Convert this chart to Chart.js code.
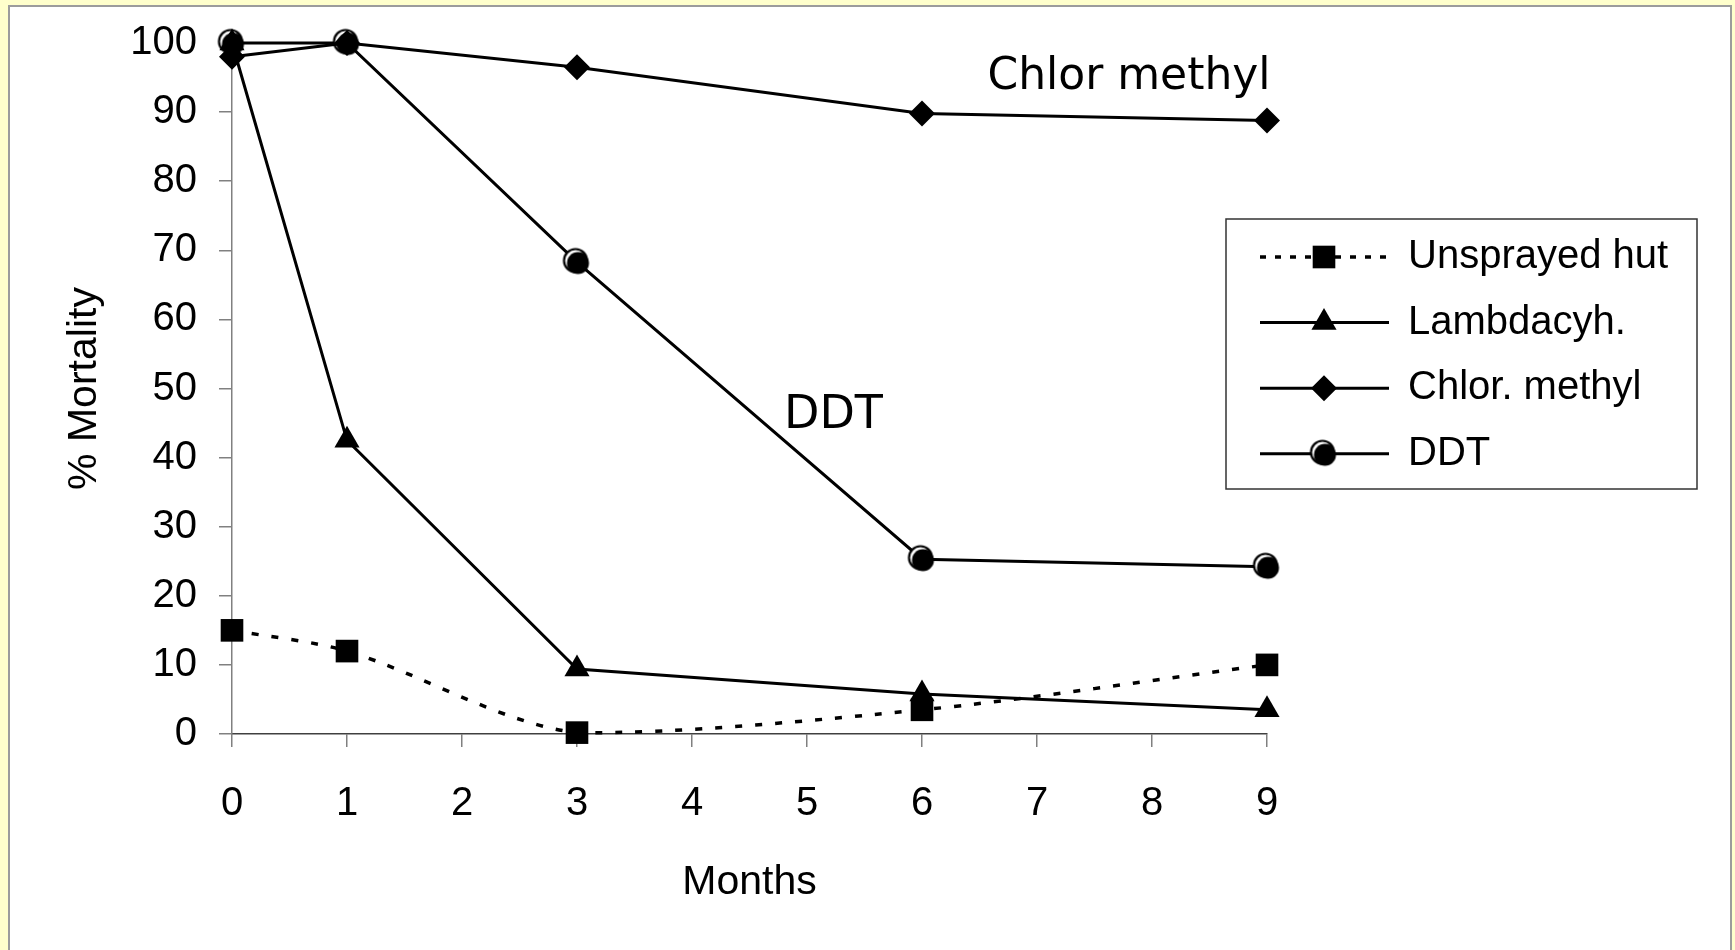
<!doctype html>
<html lang="en">
<head>
<meta charset="utf-8">
<title>% Mortality by month</title>
<style>
  html, body { margin: 0; padding: 0; background: #ffffcc; overflow: hidden; }
  .panel {
    position: absolute; left: 8px; top: 5px; width: 1724px; height: 1000px;
    box-sizing: border-box; background: #fff; border: 2px solid #9c9c9c;
  }
  #chart { position: absolute; left: 0; top: 0; }
</style>
<script src="https://cdn.jsdelivr.net/npm/chart.js"></script>
</head>
<body>
<div class="panel"></div>
<canvas id="chart" width="1735" height="950"></canvas>
<script>
// data
const months = [0, 1, 3, 6, 9];
const unsprayed = [15, 12, 0.2, 3.5, 10];
const lambdacyh = [100, 42.5, 9.4, 5.8, 3.5];
const chlorMethyl = [98, 100, 96.5, 89.8, 88.8];
const ddt = [100, 100, 68.3, 25.3, 24.2];
const seriesLabels = ['Unsprayed hut', 'Lambdacyh.', 'Chlor. methyl', 'DDT'];
const noteTexts = ['Chlor methyl', 'DDT'];

const FONT = '"Liberation Sans", Arial, sans-serif';

// black ball with a white crescent, like the old Excel marker
function ddtMarker(r) {
  const c = document.createElement('canvas');
  const s = Math.ceil(r * 2 + 6);
  c.width = c.height = s;
  const g = c.getContext('2d');
  const m = s / 2;
  g.beginPath();
  g.arc(m - 1.5, m - 1.5, r - 1, 0, Math.PI * 2);
  g.fillStyle = '#fff';
  g.fill();
  g.lineWidth = 2.2;
  g.strokeStyle = '#000';
  g.stroke();
  g.beginPath();
  g.arc(m + 1, m + 1, r - 1.5, 0, Math.PI * 2);
  g.fillStyle = '#000';
  g.fill();
  return c;
}

function pts(ys) {
  return months.map((m, i) => ({ x: m, y: ys[i] }));
}

function series(label, ys, style, radius, extra) {
  return Object.assign({
    label,
    data: pts(ys),
    borderColor: '#000',
    backgroundColor: '#000',
    borderWidth: 3,
    pointStyle: style,
    pointRadius: radius,
    pointHoverRadius: radius,
    pointBorderWidth: 0,
    tension: 0,
    clip: false
  }, extra || {});
}

// legend with line + marker, drawn like the original
const lineLegend = {
  id: 'lineLegend',
  afterDraw(chart) {
    const ctx = chart.ctx;
    const box = { l: 1226, t: 219, r: 1697, b: 489 };
    ctx.save();
    ctx.strokeStyle = '#333';
    ctx.lineWidth = 1.5;
    ctx.strokeRect(box.l, box.t, box.r - box.l, box.b - box.t);
    ctx.font = '40px ' + FONT;
    ctx.textBaseline = 'middle';
    ctx.fillStyle = '#000';
    chart.data.datasets.forEach((ds, i) => {
      const y = 257 + i * 65.6;
      ctx.save();
      ctx.strokeStyle = '#000';
      ctx.lineWidth = ds.borderWidth;
      ctx.setLineDash(ds.borderDash ? [6, 9] : []);
      ctx.beginPath();
      ctx.moveTo(1260, y);
      ctx.lineTo(1389, y);
      ctx.stroke();
      ctx.setLineDash([]);
      ctx.fillStyle = '#000';
      Chart.helpers.drawPoint(ctx, {
        pointStyle: ds.pointStyle, radius: ds.pointRadius, rotation: 0, borderWidth: 0
      }, 1324, y);
      ctx.restore();
      ctx.fillText(ds.label, 1408, y);
    });
    ctx.restore();
  }
};

// free text labels inside the plot
const notes = {
  id: 'notes',
  afterDraw(chart, args, opts) {
    const { ctx, scales: { x, y } } = chart;
    ctx.save();
    ctx.fillStyle = '#000';
    ctx.textAlign = 'center';
    ctx.textBaseline = 'middle';
    opts.items.forEach(it => {
      ctx.font = it.size + 'px "Comic Sans MS", "DejaVu Sans", sans-serif';
      ctx.fillText(it.text, x.getPixelForValue(it.x), y.getPixelForValue(it.y));
    });
    ctx.restore();
  }
};

function fixSize(w, h) {
  return axis => {
    if (w != null) axis.width = w;
    if (h != null) axis.height = h;
    axis.paddingTop = 0; axis.paddingBottom = 0;
    axis.paddingLeft = 0; axis.paddingRight = 0;
  };
}

new Chart(document.getElementById('chart'), {
  type: 'line',
  data: {
    datasets: [
      series(seriesLabels[0], unsprayed, 'rect', 16, { borderDash: [7, 13], borderWidth: 3.5, tension: 0.3 }),
      series(seriesLabels[1], lambdacyh, 'triangle', 14.5),
      series(seriesLabels[2], chlorMethyl, 'rectRot', 13),
      series(seriesLabels[3], ddt, ddtMarker(12.5), 12.5)
    ]
  },
  options: {
    responsive: false,
    animation: false,
    events: [],
    layout: { padding: { top: 43, right: 468, bottom: 0, left: 0 } },
    scales: {
      x: {
        type: 'linear',
        min: 0, max: 9,
        afterFit: fixSize(null, 216),
        ticks: { stepSize: 1, color: '#000', padding: 33, font: { family: FONT, size: 40 } },
        grid: { drawOnChartArea: false, color: '#808080', tickLength: 13, lineWidth: 1.5 },
        border: { color: '#404040', width: 1.5 },
        title: { display: true, text: 'Months', color: '#000', font: { family: FONT, size: 41 }, padding: { top: 0, bottom: 43 } }
      },
      y: {
        min: 0, max: 100,
        afterFit: fixSize(232, null),
        ticks: { stepSize: 10, color: '#000', padding: 22, font: { family: FONT, size: 40 } },
        grid: { drawOnChartArea: false, color: '#808080', tickLength: 13, lineWidth: 1.5 },
        border: { color: '#808080', width: 1.5 },
        title: { display: true, text: '% Mortality', color: '#000', font: { family: FONT, size: 41 }, padding: { top: 60, bottom: 0 } }
      }
    },
    plugins: {
      legend: { display: false },
      tooltip: { enabled: false },
      notes: {
        items: [
          { text: noteTexts[0], x: 7.8, y: 95.0, size: 44 },
          { text: noteTexts[1], x: 5.23, y: 46.0, size: 46 }
        ]
      }
    }
  },
  plugins: [lineLegend, notes]
});
</script>
</body>
</html>
